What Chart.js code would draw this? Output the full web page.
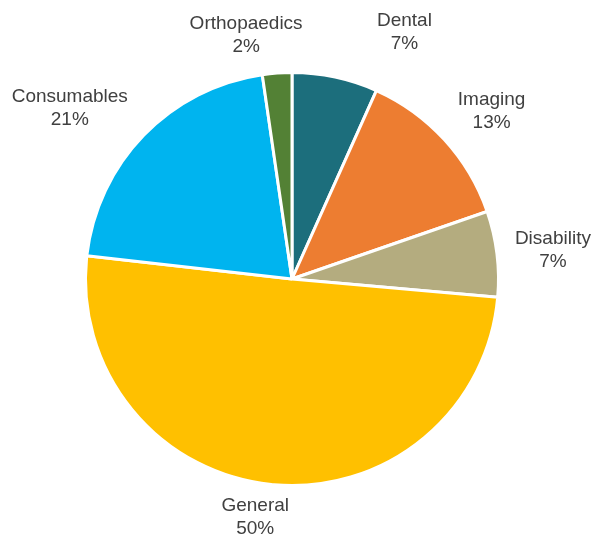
<!DOCTYPE html>
<html>
<head>
<meta charset="utf-8">
<script src="https://cdn.jsdelivr.net/npm/chart.js@4/dist/chart.umd.min.js"></script>
<style>
  html, body { margin: 0; padding: 0; background: #fff; }
  #wrap { width: 597px; height: 536px; }
</style>
</head>
<body>
<div id="wrap"><canvas id="chart"></canvas></div>
<script>
const categories = ["Dental", "Imaging", "Disability", "General", "Consumables", "Orthopaedics"]
const shares = [6.7, 13.0, 6.7, 50.4, 20.9, 2.3]
const sliceColors = ["#1C6E7C", "#ED7D31", "#B4AC7F", "#FFC000", "#00B4EF", "#538135"]

// label placement: angle nudge (deg) and distance beyond the rim (px)
const labelNudge = [[12.4, 65], [2.5, 54], [0.7, 56], [3, 35], [-6.5, 74], [-6.5, 42]]

const outsideLabels = {
  id: "outsideLabels",
  afterDatasetsDraw(chart) {
    const ctx = chart.ctx
    const meta = chart.getDatasetMeta(0)
    const total = shares.reduce((a, b) => a + b, 0)
    ctx.save()
    ctx.font = "19px 'Liberation Sans', Arial, sans-serif"
    ctx.fillStyle = "#404040"
    ctx.textAlign = "center"
    ctx.textBaseline = "middle"
    meta.data.forEach((arc, i) => {
      const mid = (arc.startAngle + arc.endAngle) / 2 + labelNudge[i][0] * Math.PI / 180
      const r = arc.outerRadius + labelNudge[i][1]
      const x = arc.x + Math.cos(mid) * r
      const y = arc.y + Math.sin(mid) * r
      const pct = Math.round(shares[i] / total * 100) + "%"
      ctx.fillText(categories[i], x, y - 11.5)
      ctx.fillText(pct, x, y + 11.5)
    })
    ctx.restore()
  }
}

new Chart(document.getElementById("chart"), {
  type: "pie",
  data: {
    labels: categories,
    datasets: [{
      data: shares,
      backgroundColor: sliceColors,
      borderColor: "#fff",
      borderWidth: 3
    }]
  },
  options: {
    responsive: true,
    maintainAspectRatio: false,
    animation: false,
    layout: { padding: { top: 71, bottom: 49, left: 84, right: 97 } },
    plugins: {
      legend: { display: false },
      tooltip: { enabled: false }
    }
  },
  plugins: [outsideLabels]
})
</script>
</body>
</html>
